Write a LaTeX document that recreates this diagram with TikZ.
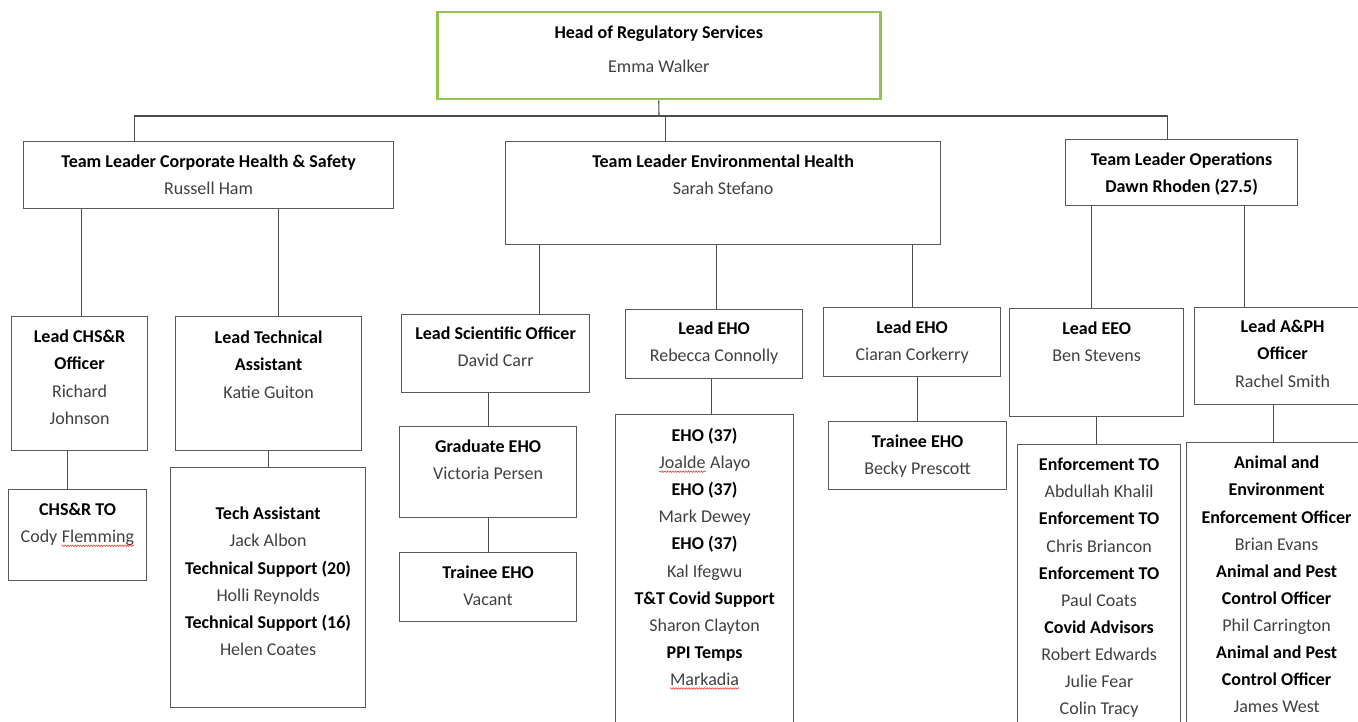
\documentclass[tikz,border=0pt]{standalone}
\usepackage{fontspec}
\setmainfont{Carlito}
\usetikzlibrary{positioning, decorations.pathmorphing}

\definecolor{headgreen}{RGB}{146,196,82}
\definecolor{namegrey}{RGB}{64,64,64}
\newcommand\nm[1]{\textcolor{namegrey}{#1}}
% spell-check squiggle under a word
\newcommand\sqg[1]{\tikz[baseline=(sqw.base)]{\node[inner sep=0pt] (sqw) {#1};
  \draw[red!85, line width=0.5pt, decorate, decoration={snake, amplitude=0.8pt, segment length=2.6pt}]
    ([yshift=-3pt]sqw.base west) -- ([yshift=-3pt]sqw.base east);}}

\tikzset{
  box/.style={draw=black!65, line width=1.2pt, anchor=north west, inner sep=0pt},
  headbox/.style={box, draw=headgreen, line width=2.5pt},
  txt/.style={align=center, inner sep=0pt, font=\fontsize{18}{27.1}\selectfont},
  link/.style={draw=black!70, line width=1.1pt},
}

\begin{document}
\begin{tikzpicture}[x=1pt, y=-1pt]
\useasboundingbox (0,0) rectangle (1358,722);
\clip (0,0) rectangle (1358,722);

% head of service
\node[headbox, minimum width=443, minimum height=87] (head) at (436,11) {};
\node[txt, below=15pt of head.north] (headT) {\textbf{Head of Regulatory Services}\\[7pt]\nm{Emma Walker}};

% team leaders
\node[box, minimum width=370, minimum height=67] (chs) at (23,141) {};
\node[txt, below=14pt of chs.north] (chsT) {\textbf{Team Leader Corporate Health \& Safety}\\\nm{Russell Ham}};
\node[box, minimum width=435, minimum height=103] (eh) at (505,141) {};
\node[txt, below=14pt of eh.north] (ehT) {\textbf{Team Leader Environmental Health}\\\nm{Sarah Stefano}};
\node[box, minimum width=232, minimum height=66] (ops) at (1065,139) {};
\node[txt, below=14pt of ops.north] (opsT) {\textbf{Team Leader Operations}\\\textbf{Dawn Rhoden (27.5)}};

% leads
\node[box, minimum width=136, minimum height=134] (lchs) at (11,316) {};
\node[txt, below=14pt of lchs.north] (lchsT) {\textbf{Lead CHS\&R}\\\textbf{Officer}\\\nm{Richard}\\\nm{Johnson}};
\node[box, minimum width=186, minimum height=134] (ltech) at (175,316) {};
\node[txt, below=15pt of ltech.north] (ltechT) {\textbf{Lead Technical}\\\textbf{Assistant}\\\nm{Katie Guiton}};
\node[box, minimum width=188, minimum height=78] (lsci) at (401,314) {};
\node[txt, below=13pt of lsci.north] (lsciT) {\textbf{Lead Scientific Officer}\\\nm{David Carr}};
\node[box, minimum width=177, minimum height=69] (leho) at (625,309) {};
\node[txt, below=13pt of leho.north] (lehoT) {\textbf{Lead EHO}\\\nm{Rebecca Connolly}};
\node[box, minimum width=177, minimum height=69] (lehoc) at (823,307) {};
\node[txt, below=14pt of lehoc.north] (lehocT) {\textbf{Lead EHO}\\\nm{Ciaran Corkerry}};
\node[box, minimum width=174, minimum height=108] (leeo) at (1009,308) {};
\node[txt, below=14pt of leeo.north] (leeoT) {\textbf{Lead EEO}\\\nm{Ben Stevens}};
\node[box, minimum width=176, minimum height=97] (laph) at (1194,307) {};
\node[txt, below=13pt of laph.north] (laphT) {\textbf{Lead A\&PH}\\\textbf{Officer}\\\nm{Rachel Smith}};

% teams
\node[box, minimum width=138, minimum height=91] (chsto) at (8,489) {};
\node[txt, below=14pt of chsto.north] (chstoT) {\textbf{CHS\&R TO}\\\nm{Cody \sqg{Flemming}}};
\node[box, minimum width=195, minimum height=240] (techgrp) at (170,467) {};
\node[txt, below=40pt of techgrp.north] (techT) {\textbf{Tech Assistant}\\\nm{Jack Albon}\\\textbf{Technical Support (20)}\\\nm{Holli Reynolds}\\\textbf{Technical Support (16)}\\\nm{Helen Coates}};
\node[box, minimum width=177, minimum height=91] (grad) at (399,426) {};
\node[txt, below=14pt of grad.north] (gradT) {\textbf{Graduate EHO}\\\nm{Victoria Persen}};
\node[box, minimum width=177, minimum height=69] (trvac) at (399,552) {};
\node[txt, below=14pt of trvac.north] (trvacT) {\textbf{Trainee EHO}\\\nm{Vacant}};
\node[box, minimum width=178, minimum height=330] (ehogrp) at (615,414) {};
\node[txt, below=14pt of ehogrp.north] (ehoT) {\textbf{EHO (37)}\\\nm{\sqg{Joalde} Alayo}\\\textbf{EHO (37)}\\\nm{Mark Dewey}\\\textbf{EHO (37)}\\\nm{Kal Ifegwu}\\\textbf{T\&T Covid Support}\\\nm{Sharon Clayton}\\\textbf{PPI Temps}\\\nm{\sqg{Markadia}}};
\node[box, minimum width=178, minimum height=68] (trbecky) at (828,421) {};
\node[txt, below=14pt of trbecky.north] (trbeckyT) {\textbf{Trainee EHO}\\\nm{Becky Prescott}};
\node[box, minimum width=163, minimum height=300] (enfgrp) at (1017,444) {};
\node[txt, below=14pt of enfgrp.north] (enfT) {\textbf{Enforcement TO}\\\nm{Abdullah Khalil}\\\textbf{Enforcement TO}\\\nm{Chris Briancon}\\\textbf{Enforcement TO}\\\nm{Paul Coats}\\\textbf{Covid Advisors}\\\nm{Robert Edwards}\\\nm{Julie Fear}\\\nm{Colin Tracy}};
\node[box, minimum width=180, minimum height=300] (anigrp) at (1186,442) {};
\node[txt, below=14pt of anigrp.north] (aniT) {\textbf{Animal and}\\\textbf{Environment}\\\textbf{Enforcement Officer}\\\nm{Brian Evans}\\\textbf{Animal and Pest}\\\textbf{Control Officer}\\\nm{Phil Carrington}\\\textbf{Animal and Pest}\\\textbf{Control Officer}\\\nm{James West}};

% connectors
\coordinate (bus) at (659,116);
\draw[link] (head.south) -- (bus);
\draw[link] ([xshift=-74pt]chs.north) |- (bus) -| ([xshift=-14pt]ops.north);
\draw[link] ([xshift=-58pt]eh.north) -- ([xshift=-58pt]eh.north |- bus);

\draw[link] ([xshift=2pt]lchs.north) -- ([xshift=2pt]lchs.north |- chs.south);
\draw[link] ([xshift=10pt]ltech.north) -- ([xshift=10pt]ltech.north |- chs.south);
\draw[link] ([xshift=44pt]lsci.north) -- ([xshift=44pt]lsci.north |- eh.south);
\draw[link] ([xshift=2pt]leho.north) -- ([xshift=2pt]leho.north |- eh.south);
\draw[link] (lehoc.north) -- (lehoc.north |- eh.south);
\draw[link] ([xshift=-5pt]leeo.north) -- ([xshift=-5pt]leeo.north |- ops.south);
\draw[link] ([xshift=-38pt]laph.north) -- ([xshift=-38pt]laph.north |- ops.south);

\draw[link] ([xshift=-10pt]chsto.north) -- ([xshift=-10pt]chsto.north |- lchs.south);
\draw[link] (techgrp.north) -- (techgrp.north |- ltech.south);
\draw[link] (grad.north) -- (grad.north |- lsci.south);
\draw[link] (trvac.north) -- (trvac.north |- grad.south);
\draw[link] ([xshift=7pt]ehogrp.north) -- ([xshift=7pt]ehogrp.north |- leho.south);
\draw[link] (trbecky.north) -- (trbecky.north |- lehoc.south);
\draw[link] ([xshift=-3pt]enfgrp.north) -- ([xshift=-3pt]enfgrp.north |- leeo.south);
\draw[link] ([xshift=-3pt]anigrp.north) -- ([xshift=-3pt]anigrp.north |- laph.south);
\end{tikzpicture}
\end{document}
